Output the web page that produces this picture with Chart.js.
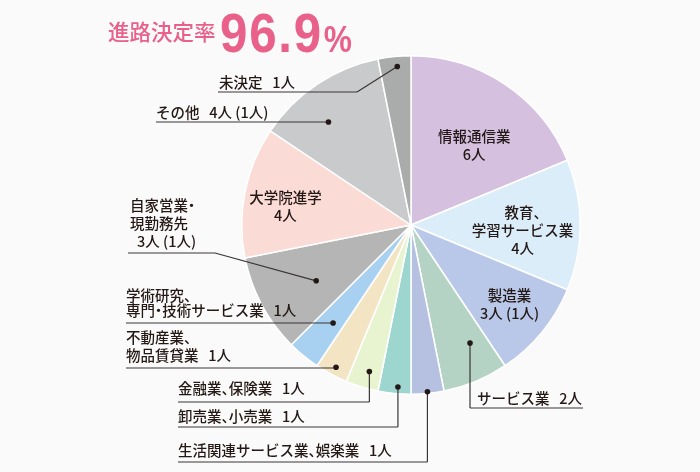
<!DOCTYPE html>
<html lang="ja">
<head>
<meta charset="UTF-8">
<title>進路決定率</title>
<script src="https://cdn.jsdelivr.net/npm/chart.js"></script>
<style>
  body { margin: 0; background: #fafafa; }
  #grafico { display: block; }
</style>
</head>
<body>
<canvas id="grafico" width="700" height="472"></canvas>
<script>
// data
var categorias = ['情報通信業', '教育、\n学習サービス業', '製造業', 'サービス業', '生活関連サービス業、娯楽業',
  '卸売業、小売業', '金融業、保険業', '不動産業、\n物品賃貸業', '学術研究、\n専門・技術サービス業',
  '自家営業・\n現勤務先', '大学院進学', 'その他', '未決定']
var pessoas = [6, 4, 3, 2, 1, 1, 1, 1, 1, 3, 4, 4, 1]
var entre_parenteses = [0, 0, 1, 0, 0, 0, 0, 0, 0, 1, 0, 1, 0]
var cores = ['#d5c0df', '#dcedfa', '#b9c8e8', '#b4d3c5', '#b6c1e1', '#9dd5cf', '#e8f3cf',
  '#f3e5c3', '#a8d0f0', '#b5b5b6', '#fbdbd6', '#c9cacb', '#aaabab']
var titulo = '進路決定率'
var taxa = '96.9'

// labels inside the slices (t = position along the slice angle, r = fraction of radius)
var dentro = [
  { i: 0, t: 0.57, r: 0.6 },
  { i: 1, t: 0.56, r: 0.66 },
  { i: 2, t: 0.49, r: 0.75 },
  { i: 10, t: 0.44, r: 0.75 }
]
// callouts outside
var fora = [
  { i: 12, t: 0.56, r: 0.94, x: 219, y: [82], lineY: 92, x0: 218, elbow: 357 },
  { i: 11, t: 0.39, r: 0.78, x: 156, y: [112], lineY: 122, x0: 156 },
  { i: 9, t: 0.43, r: 0.65, x: 130, y: [205, 223], cy: 241, cx: 137, lineY: 253, x0: 128, elbow: 215 },
  { i: 8, t: 0.42, r: 0.74, x: 126, y: [295, 310], lineY: 323, x0: 126 },
  { i: 7, t: 0.47, r: 0.95, x: 126, y: [337, 355], lineY: 368, x0: 126 },
  { i: 6, t: 0.41, r: 0.9, x: 178, y: [388], lineY: 402, x0: 178 },
  { i: 5, t: 0.41, r: 0.96, x: 178, y: [416], lineY: 427, x0: 178 },
  { i: 4, t: 0.5, r: 0.99, x: 178, y: [450], lineY: 462, x0: 178 },
  { i: 3, t: 0.32, r: 0.78, x: 477, y: [398], lineY: 408, x1: 583 }
]

function textoPessoas(i) {
  var s = pessoas[i] + '人'
  if (entre_parenteses[i]) s += ' (' + entre_parenteses[i] + '人)'
  return s
}

// half-width punctuation, like the print version
function largura(ctx, s) {
  var w = 0
  for (var c of s) {
    var m = ctx.measureText(c).width
    w += (c == '、' || c == '・') ? m / 2 : m
  }
  return w
}
function escreve(ctx, s, x, y, centro) {
  if (centro) x -= largura(ctx, s) / 2
  for (var c of s) {
    var m = ctx.measureText(c).width
    if (c == '・') {
      ctx.fillText(c, x - m / 4, y)
      x += m / 2
    } else if (c == '、') {
      ctx.fillText(c, x, y)
      x += m / 2
    } else {
      ctx.fillText(c, x, y)
      x += m
    }
  }
}

var rotulos = {
  id: 'rotulos',
  afterDraw: function (chart) {
    var ctx = chart.ctx
    var arcs = chart.getDatasetMeta(0).data

    function ponto(i, t, rf) {
      var a = arcs[i]
      var ang = a.startAngle + (a.endAngle - a.startAngle) * t
      var r = a.outerRadius * rf
      return [a.x + Math.cos(ang) * r, a.y + Math.sin(ang) * r]
    }

    ctx.save()
    // title
    ctx.fillStyle = '#e9608a'
    ctx.textBaseline = 'middle'
    ctx.textAlign = 'left'
    ctx.font = '500 21.5px "Noto Sans CJK JP"'
    ctx.fillText(titulo, 108, 32)
    ctx.save()
    ctx.translate(220, 52)
    ctx.scale(0.88, 1)
    ctx.textBaseline = 'alphabetic'
    ctx.font = 'bold 56px "Liberation Sans", sans-serif'
    ctx.letterSpacing = '2px'
    ctx.fillText(taxa, 0, 0)
    var w = ctx.measureText(taxa).width
    ctx.letterSpacing = '0px'
    ctx.font = 'bold 36px "Liberation Sans", sans-serif'
    ctx.fillText('%', w + 1, 0)
    ctx.restore()

    ctx.fillStyle = '#231815'
    ctx.font = '500 14.5px "Noto Sans CJK JP"'
    ctx.textBaseline = 'middle'
    ctx.textAlign = 'left'

    // inner labels
    dentro.forEach(function (d) {
      var p = ponto(d.i, d.t, d.r)
      var linhas = categorias[d.i].split('\n').concat([textoPessoas(d.i)])
      var y0 = p[1] - (linhas.length - 1) * 18 / 2
      linhas.forEach(function (l, k) { escreve(ctx, l, p[0], y0 + k * 18, true) })
    })

    // outer callouts
    ctx.strokeStyle = '#3a3536'
    ctx.lineWidth = 1.2
    fora.forEach(function (f) {
      var p = ponto(f.i, f.t, f.r)
      var linhas = categorias[f.i].split('\n')
      linhas.forEach(function (l, k) {
        var s = l
        if (k == linhas.length - 1 && f.cy === undefined) s += '   ' + textoPessoas(f.i)
        escreve(ctx, s, f.x, f.y[k])
      })
      if (f.cy !== undefined) escreve(ctx, textoPessoas(f.i), f.cx, f.cy)

      var ex = f.elbow !== undefined ? f.elbow : p[0]
      var x0 = f.x0 !== undefined ? f.x0 : ex
      var x1 = f.x1 !== undefined ? f.x1 : ex
      ctx.beginPath()
      ctx.moveTo(p[0], p[1])
      ctx.lineTo(ex, f.lineY)
      ctx.stroke()
      ctx.beginPath()
      ctx.moveTo(x0, f.lineY)
      ctx.lineTo(x1, f.lineY)
      ctx.stroke()
      ctx.beginPath()
      ctx.arc(p[0], p[1], 2.8, 0, Math.PI * 2)
      ctx.fill()
    })
    ctx.restore()
  }
}

new Chart(document.getElementById('grafico'), {
  type: 'pie',
  data: {
    labels: categorias,
    datasets: [{
      data: pessoas,
      backgroundColor: cores,
      borderColor: '#ffffff',
      borderWidth: 1.5,
      hoverOffset: 0
    }]
  },
  options: {
    responsive: false,
    animation: false,
    layout: { padding: { left: 241, right: 119, top: 55, bottom: 77 } },
    plugins: { legend: { display: false }, tooltip: { enabled: false } }
  },
  plugins: [rotulos]
})
</script>
</body>
</html>
